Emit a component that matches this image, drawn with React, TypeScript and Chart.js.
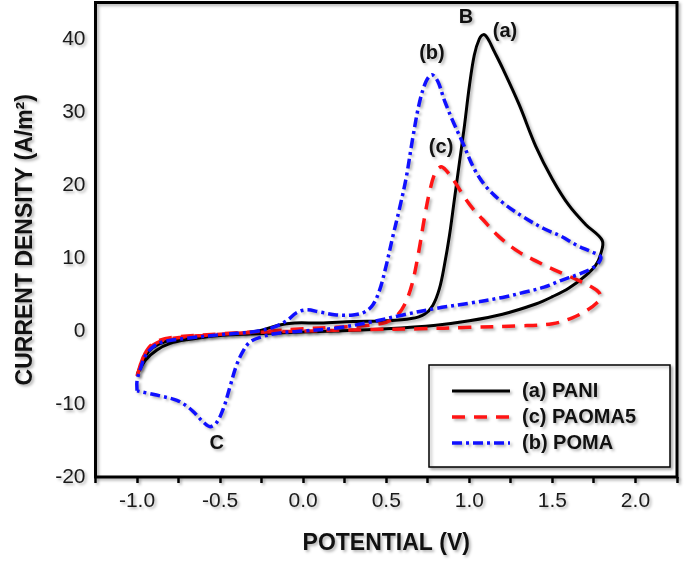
import { useEffect, useRef } from "react";
import { Chart, registerables } from "chart.js";

Chart.register(...registerables);

const FONT = '"Liberation Sans", Arial, Helvetica, sans-serif';

// (a) PANI - forward sweep from -1.0 V to 1.8 V and back
const paniV = [
  -1.0, -0.97, -0.93, -0.87, -0.78, -0.6, -0.4, -0.25, -0.15, -0.05, 0.1, 0.3, 0.5, 0.65, 0.73, 0.78,
  0.82, 0.85, 0.88, 0.91, 0.94, 0.97, 1.0, 1.03, 1.06, 1.085, 1.11, 1.15, 1.2, 1.3, 1.4, 1.5, 1.6,
  1.7, 1.8, 1.79, 1.76, 1.7, 1.6, 1.5, 1.4, 1.2, 1.0, 0.8, 0.5, 0.2, -0.2, -0.5, -0.7, -0.8, -0.88,
  -0.95, -1.0,
];
const paniJ = [
  -6.0, -4.3, -2.8, -1.8, -1.2, -0.8, -0.4, 0.1, 0.8, 1.1, 1.1, 1.3, 1.4, 1.7, 2.3, 3.5,
  5.8, 9.0, 13, 18, 23, 28, 33.5, 37.8, 40.0, 40.6, 40.1, 38.3, 36.0, 31.0, 25.3, 20.8, 17.2,
  14.6, 12.4, 10.5, 9.0, 7.6, 5.9, 4.7, 3.7, 2.3, 1.4, 0.8, 0.3, 0.0, -0.3, -0.6, -1.2, -1.7, -2.6,
  -4.0, -6.0,
];

// (c) PAOMA5
const paomaV = [
  -1.0, -0.97, -0.93, -0.87, -0.75, -0.5, -0.2, 0.0, 0.2, 0.4, 0.5, 0.56, 0.61, 0.655, 0.695, 0.73,
  0.76, 0.795, 0.83, 0.86, 0.91, 0.96, 1.02, 1.08, 1.18, 1.3, 1.4, 1.48, 1.57, 1.66, 1.73, 1.78,
  1.79, 1.77, 1.72, 1.62, 1.5, 1.3, 1.0, 0.7, 0.4, 0.0, -0.3, -0.6, -0.78, -0.88, -0.95, -1.0,
];
const paomaJ = [
  -6.2, -4.0, -2.3, -1.3, -0.8, -0.4, 0.0, 0.3, 0.5, 0.8, 1.2, 2.0, 3.6, 6.4, 10.8, 15.5,
  19.0, 21.7, 22.5, 22.0, 20.5, 18.7, 16.8, 15.3, 12.9, 10.8, 9.6, 8.7, 7.8, 6.9, 6.1, 5.3,
  4.5, 3.9, 3.0, 1.8, 1.0, 0.7, 0.5, 0.3, 0.2, 0.0, -0.2, -0.6, -1.0, -1.6, -3.0, -6.2,
];

// (b) POMA
const pomaV = [
  -1.0, -1.0, -0.98, -0.95, -0.9, -0.83, -0.7, -0.5, -0.3, -0.18, -0.1, -0.04, 0.02, 0.1, 0.2, 0.3,
  0.37, 0.42, 0.46, 0.5, 0.54, 0.58, 0.62, 0.66, 0.7, 0.74, 0.775, 0.81, 0.85, 0.9, 0.96, 1.03,
  1.1, 1.2, 1.32, 1.45, 1.55, 1.65, 1.73, 1.79, 1.78, 1.74, 1.66, 1.55, 1.45, 1.33, 1.2, 1.0,
  0.8, 0.6, 0.4, 0.2, 0.0, -0.15, -0.25, -0.32, -0.36, -0.4, -0.44, -0.48, -0.52, -0.56, -0.6,
  -0.65, -0.7, -0.76, -0.86, -0.94, -1.0,
];
const pomaJ = [
  -8.2, -6.8, -5.2, -3.4, -2.1, -1.4, -1.0, -0.5, -0.1, 0.5, 1.4, 2.5, 2.9, 2.6, 2.2, 2.2,
  2.6, 3.6, 5.6, 9.0, 13, 16.8, 21, 26.5, 31.3, 34.2, 35.1, 34.2, 31.6, 28.8, 25.8, 22.2,
  19.8, 17.6, 15.7, 14.0, 13.0, 11.7, 10.9, 10.2, 9.4, 8.6, 7.8, 6.9, 6.0, 5.3, 4.6, 3.8,
  3.1, 2.2, 1.2, 0.4, 0.0, -0.3, -0.8, -1.5, -2.7, -4.6, -7.6, -10.6, -12.5, -13.1, -12.5,
  -11.3, -10.3, -9.5, -8.9, -8.5, -8.2,
];

const xTickValues = [-1.25, -1, -0.75, -0.5, -0.25, 0, 0.25, 0.5, 0.75, 1, 1.25, 1.5, 1.75, 2, 2.25];
const xTickLabels = ["", "-1.0", "", "-0.5", "", "0.0", "", "0.5", "", "1.0", "", "1.5", "", "2.0", ""];
const yTickValues = [-20, -10, 0, 10, 20, 30, 40];
const yTickLabels = ["-20", "-10", "0", "10", "20", "30", "40"];

const seriesNames = ["(a) PANI", "(c) PAOMA5", "(b) POMA"];

// peak labels, in data coordinates
const noteText = ["B", "(a)", "(b)", "(c)", "C"];
const noteV = [0.98, 1.215, 0.775, 0.83, -0.52];
const noteJ = [43.0, 41.0, 38.0, 25.2, -15.4];

const toPoints = (xs: number[], ys: number[]) => xs.map((x, i) => ({ x, y: ys[i] }));

const styles = [
  { color: "#000000", width: 3, dash: [] as number[] },
  { color: "#ff1414", width: 3.5, dash: [13, 9] },
  { color: "#1010ff", width: 3.5, dash: [10, 4, 3, 4] },
];

const shadowPlugin = {
  id: "shadow",
  beforeDraw(chart: any) {
    const c = chart.ctx;
    c.save();
    c.shadowColor = "rgba(0,0,0,0.3)";
    c.shadowBlur = 3;
    c.shadowOffsetX = 2;
    c.shadowOffsetY = 2;
  },
  afterDraw(chart: any) {
    chart.ctx.restore();
  },
};

const decorPlugin = {
  id: "decor",
  afterDatasetsDraw(chart: any) {
    const { ctx, chartArea, scales } = chart;
    ctx.save();
    ctx.strokeStyle = "#000";
    ctx.lineWidth = 3;
    ctx.strokeRect(chartArea.left, chartArea.top, chartArea.width, chartArea.height);

    ctx.fillStyle = "#111";
    ctx.font = `bold 20px ${FONT}`;
    ctx.textAlign = "center";
    ctx.textBaseline = "middle";
    noteText.forEach((t, i) => {
      ctx.fillText(t, scales.x.getPixelForValue(noteV[i]), scales.y.getPixelForValue(noteJ[i]));
    });

    // legend box
    const bx = chartArea.right - 248;
    const by = chartArea.bottom - 112;
    ctx.fillStyle = "#fff";
    ctx.fillRect(bx, by, 241, 102);
    ctx.lineWidth = 1.5;
    ctx.strokeStyle = "#000";
    ctx.strokeRect(bx, by, 241, 102);
    seriesNames.forEach((name, i) => {
      const y = by + 26 + i * 26;
      ctx.beginPath();
      ctx.setLineDash(styles[i].dash);
      ctx.strokeStyle = styles[i].color;
      ctx.lineWidth = styles[i].width;
      ctx.moveTo(bx + 23, y);
      ctx.lineTo(bx + 81, y);
      ctx.stroke();
      ctx.setLineDash([]);
      ctx.fillStyle = "#111";
      ctx.font = `bold 20px ${FONT}`;
      ctx.textAlign = "left";
      ctx.fillText(name, bx + 93, y);
    });
    ctx.restore();
  },
};

const App = () => {
  const chartRef = useRef<HTMLCanvasElement>(null);

  useEffect(() => {
    if (!chartRef.current) return;

    const series = [toPoints(paniV, paniJ), toPoints(paomaV, paomaJ), toPoints(pomaV, pomaJ)];

    const chart = new Chart(chartRef.current, {
      type: "scatter",
      data: {
        datasets: series.map((pts, i) => ({
          label: seriesNames[i],
          data: pts,
          showLine: true,
          fill: false,
          tension: 0.35,
          borderColor: styles[i].color,
          borderWidth: styles[i].width,
          borderDash: styles[i].dash,
          pointRadius: 0,
          order: 2 - i,
        })),
      },
      options: {
        responsive: false,
        animation: false,
        events: [],
        layout: { padding: { top: 2.5, right: 8, left: 0, bottom: 0 } },
        plugins: {
          legend: { display: false },
          tooltip: { enabled: false },
        },
        scales: {
          x: {
            type: "linear",
            min: -1.25,
            max: 2.25,
            afterBuildTicks: (scale: any) => {
              scale.ticks = xTickValues.map((v) => ({ value: v }));
            },
            afterFit: (scale: any) => {
              scale.height = 85;
              scale.paddingLeft = 0;
              scale.paddingRight = 0;
            },
            border: { display: false },
            grid: {
              display: true,
              drawOnChartArea: false,
              drawTicks: true,
              tickLength: 6,
              tickWidth: 2.5,
              tickColor: "#000",
            },
            ticks: {
              autoSkip: false,
              maxRotation: 0,
              padding: 6,
              color: "#1a1a1a",
              font: { family: FONT, size: 21 },
              callback: (_v: any, i: number) => xTickLabels[i],
            },
            title: {
              display: true,
              text: "POTENTIAL (V)",
              color: "#111",
              font: { family: FONT, size: 23, weight: "bold" },
              padding: { top: 0, bottom: 5 },
            },
          },
          y: {
            type: "linear",
            min: -20,
            max: 45,
            afterBuildTicks: (scale: any) => {
              scale.ticks = yTickValues.map((v) => ({ value: v }));
            },
            afterFit: (scale: any) => {
              scale.width = 95.5;
              scale.paddingTop = 0;
              scale.paddingBottom = 0;
            },
            border: { display: false },
            grid: { display: false, drawTicks: false },
            ticks: {
              padding: 10,
              color: "#1a1a1a",
              font: { family: FONT, size: 21 },
              callback: (_v: any, i: number) => yTickLabels[i],
            },
            title: {
              display: true,
              text: "CURRENT DENSITY (A/m²)",
              color: "#111",
              font: { family: FONT, size: 23, weight: "bold" },
              padding: { top: 12, bottom: 0 },
            },
          },
        },
      },
      plugins: [decorPlugin, shadowPlugin],
    });

    return () => {
      chart.destroy();
    };
  }, []);

  return (
    <div style={{ position: "absolute", left: 0, top: 0, width: 685, height: 562 }}>
      <canvas ref={chartRef} width={685} height={562} style={{ display: "block" }} />
    </div>
  );
};

export default App;
